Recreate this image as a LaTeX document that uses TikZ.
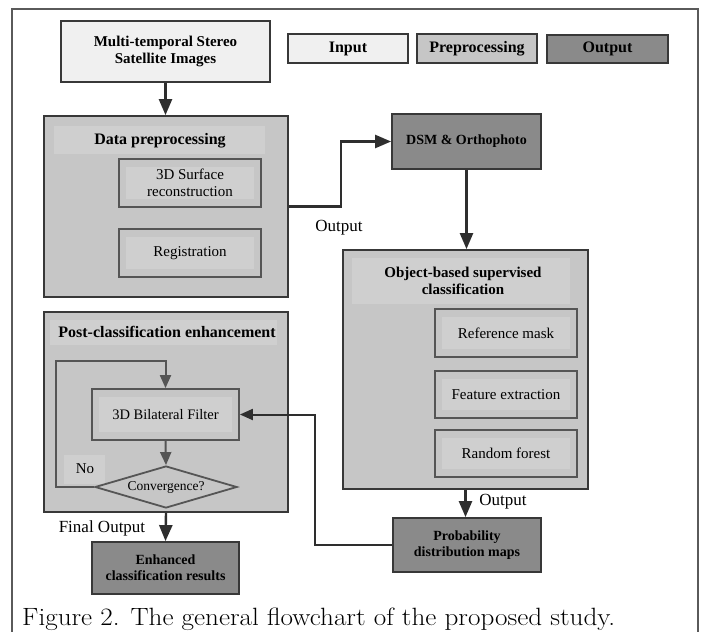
\documentclass[tikz,border=0pt]{standalone}
\usepackage{fontspec}
\newfontfamily\tnr{Liberation Serif}
\usetikzlibrary{arrows.meta,shapes.geometric,calc}
\definecolor{inpfill}{HTML}{F0F0F0}
\definecolor{prefill}{HTML}{C6C6C6}
\definecolor{bandfill}{HTML}{CFCFCF}
\definecolor{outfill}{HTML}{8A8A8A}
\definecolor{bdr}{HTML}{383838}
\definecolor{inbdr}{HTML}{555555}
\definecolor{framec}{HTML}{5A5A5A}
\definecolor{arrc}{HTML}{2E2E2E}
\tikzset{
  box/.style={draw=bdr, line width=1.8pt, align=center, inner sep=0pt},
  bfont/.style={font=\tnr\bfseries\fontsize{15}{17}\selectfont},
  rfont/.style={font=\tnr\fontsize{15}{17}\selectfont},
  inbox/.style={draw=inbdr, line width=1.8pt, fill=prefill, align=center, inner sep=0pt,
    minimum width=142pt, rfont,
    path picture={\fill[bandfill] ($(path picture bounding box.north west)+(7pt,-8pt)$) rectangle ($(path picture bounding box.south east)+(-7pt,8pt)$);}},
  arr/.style={draw=arrc, line width=2.4pt, -{Triangle[length=16pt,width=13pt]}},
  line/.style={draw=arrc, line width=2pt},
  arrin/.style={draw=inbdr, line width=2pt, -{Triangle[length=13pt,width=11pt]}},
  lbl/.style={font=\tnr\fontsize{17}{19}\selectfont, inner sep=0pt}
}
\begin{document}
\begin{tikzpicture}[x=1pt,y=-1pt]
\useasboundingbox (0,0) rectangle (707,632);
\fill[white] (0,0) rectangle (707,632);
\draw[framec, line width=1.5pt] (12,632) -- (12,9) -- (698,9) -- (698,632);

% legend
\node (legin) [box, fill=inpfill, font=\tnr\bfseries\fontsize{16}{18}\selectfont, minimum width=120pt, minimum height=29pt] at (348,48.5) {Input};
\node (legpre) [box, fill=prefill, font=\tnr\bfseries\fontsize{16}{18}\selectfont, minimum width=120pt, minimum height=29pt] at (477,48.5) {Preprocessing};
\node (legout) [box, fill=outfill, font=\tnr\bfseries\fontsize{16}{18}\selectfont, minimum width=121pt, minimum height=28pt] at (607.5,49) {Output};

% input
\node (in) [box, fill=inpfill, bfont, minimum width=209pt, minimum height=61pt] at (165.5,51.5) {Multi-temporal Stereo\\Satellite Images};

% data preprocessing
\node (data) [box, fill=prefill, minimum width=244pt, minimum height=181pt] at (166,206.5) {};
\fill[bandfill] (54,126) rectangle (265,154);
\node (datat) [font=\tnr\bfseries\fontsize{16}{18}\selectfont, inner sep=0pt] at (160,141) {Data preprocessing};
\node (surf) [inbox, minimum height=48pt] at (190,183) {3D Surface\\reconstruction};
\node (reg) [inbox, minimum height=48pt] at (190,253) {Registration};

% DSM
\node (dsm) [box, fill=outfill, font=\tnr\bfseries\fontsize{14}{16}\selectfont, minimum width=149pt, minimum height=55pt] at (466.5,141.5) {DSM \& Orthophoto};

% object-based
\node (obj) [box, fill=prefill, minimum width=245pt, minimum height=239pt] at (465.5,369.5) {};
\fill[bandfill] (352,258) rectangle (570,304);
\node (objt) [bfont, align=center, inner sep=0pt] at (463,281) {Object-based supervised\\classification};
\node (ref) [inbox, minimum height=48pt] at (506,333) {Reference mask};
\node (feat) [inbox, minimum height=47pt] at (506,394.5) {Feature extraction};
\node (rf) [inbox, minimum height=47pt] at (506,453.5) {Random forest};

% probability
\node (prob) [box, fill=outfill, font=\tnr\bfseries\fontsize{14}{16}\selectfont, minimum width=148pt, minimum height=54pt] at (467,545) {Probability\\distribution maps};

% post-classification
\node (post) [box, fill=prefill, minimum width=244pt, minimum height=200pt] at (166,412) {};
\fill[bandfill] (50,320) rectangle (277,345);
\node (postt) [font=\tnr\bfseries\fontsize{16}{18}\selectfont, inner sep=0pt] at (167,332) {Post-classification enhancement};
\node (filt) [inbox, minimum width=147pt, minimum height=51pt, font=\tnr\fontsize{14.5}{17}\selectfont] at (165.5,414.5) {3D Bilateral Filter};
\fill[bandfill] (64,455) rectangle (105,484);
\node (no) [font=\tnr\fontsize{15}{17}\selectfont, inner sep=0pt] at (85,469) {No};
\node (conv) [draw=inbdr, line width=1.8pt, fill=prefill, shape=diamond, inner sep=0pt, minimum width=142pt, minimum height=42pt] at (166,487) {};
\node (convt) [font=\tnr\fontsize{13.5}{16}\selectfont, inner sep=0pt] at (conv.center) {Convergence?};

% enhanced
\node (enh) [box, fill=outfill, font=\tnr\bfseries\fontsize{14}{16}\selectfont, minimum width=147pt, minimum height=52pt] at (165.5,568) {Enhanced\\classification results};

% connectors
\draw[arr] (in.south) -- (in.south |- data.north);
\draw[arr] (data.east) -- ++(52,0) |- (dsm.west);
\node (outlbl1) [lbl] at (339,228) {Output};
\draw[arr] (dsm.south) -- (dsm.south |- obj.north);
\draw[arr] (obj.south) -- (obj.south |- prob.north);
\node (outlbl2) [lbl] at (503,502) {Output};
\draw[line, -{Triangle[length=13pt,width=11pt]}] (prob.west) -- ++(-77,0) |- (filt.east);
\draw[arrin] (filt.south) -- (conv.north);
\coordinate (lp) at (56,361);
\draw[arrin] (conv.west) -| (lp) -| (filt.north);
\draw[arr] (post.south) -- (enh.north);
\node (finlbl) [lbl] at (102,528) {Final Output};

% caption
\node (cap) [anchor=base west, inner sep=0pt, font=\fontsize{25}{29}\selectfont] at (22,625) {\scalebox{1.085}[1]{Figure 2. The general flowchart of the proposed study.}};
\end{tikzpicture}
\end{document}
